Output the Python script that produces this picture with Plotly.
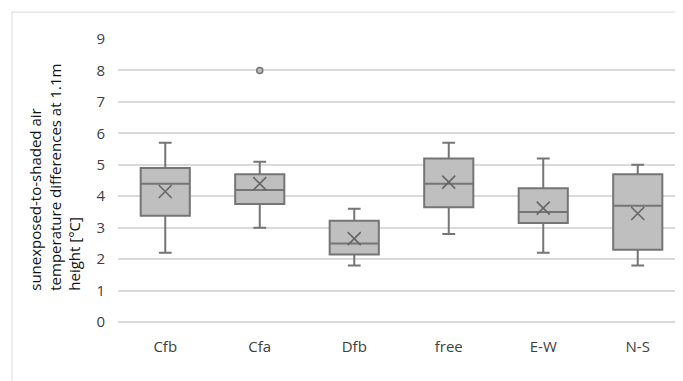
import plotly.graph_objects as go

categories = ["Cfb", "Cfa", "Dfb", "free", "E-W", "N-S"]
lower_whisker = [2.2, 3.0, 1.8, 2.8, 2.2, 1.8]
q1_vals = [3.38, 3.75, 2.15, 3.65, 3.15, 2.3]
median_vals = [4.4, 4.2, 2.5, 4.4, 3.5, 3.7]
q3_vals = [4.9, 4.7, 3.22, 5.2, 4.25, 4.7]
upper_whisker = [5.7, 5.1, 3.6, 5.7, 5.2, 5.0]
mean_vals = [4.15, 4.4, 2.65, 4.45, 3.62, 3.45]
outlier_cats = ["Cfa"]
outlier_vals = [8.0]
y_ticks = [0, 1, 2, 3, 4, 5, 6, 7, 8, 9]
y_title = "sunexposed-to-shaded air<br>temperature differences at 1.1m<br>height [°C]"

LINE = "#757575"
FILL = "#bfbfbf"
GRID = "#dadada"
FONT = "Open Sans, sans-serif"

fig = go.Figure()
fig.add_trace(go.Box(
    x=categories, q1=q1_vals, median=median_vals, q3=q3_vals,
    lowerfence=lower_whisker, upperfence=upper_whisker,
    fillcolor=FILL, line=dict(color=LINE, width=2), width=0.52,
    whiskerwidth=0.26, boxpoints=False, showlegend=False, hoverinfo="skip"))
fig.add_trace(go.Scatter(
    x=categories, y=mean_vals, mode="markers",
    marker=dict(symbol="x-thin", size=13, line=dict(color="#666666", width=1.6)),
    showlegend=False, hoverinfo="skip"))
fig.add_trace(go.Scatter(
    x=outlier_cats, y=outlier_vals, mode="markers",
    marker=dict(symbol="circle", size=6, color=FILL, line=dict(color=LINE, width=1.5)),
    showlegend=False, hoverinfo="skip"))

fig.add_shape(type="rect", xref="paper", yref="paper",
              x0=-0.187, x1=1.2, y0=-0.4, y1=1.095,
              line=dict(color="#d9d9d9", width=1))

fig.add_annotation(xref="paper", yref="paper", x=-0.111, y=0.51,
                   text=y_title, textangle=-90, align="left", showarrow=False,
                   xanchor="center", yanchor="middle",
                   font=dict(size=15, color="#111111", family=FONT))

fig.update_layout(
    width=683, height=381,
    margin=dict(l=110, r=6, t=31, b=67, autoexpand=False),
    paper_bgcolor="white", plot_bgcolor="white",
    font=dict(family=FONT, color="#404040", size=15),
    xaxis=dict(type="category", categoryorder="array", categoryarray=categories,
               showgrid=False, showline=False, zeroline=False, automargin=False,
               tickfont=dict(size=15, color="#404040"), range=[-0.5, 5.5],
               ticklabelstandoff=14),
    yaxis=dict(range=[0, 9], tickvals=y_ticks, showgrid=True, gridcolor=GRID,
               gridwidth=2, zeroline=True, zerolinecolor=GRID, zerolinewidth=2,
               showline=False, automargin=False,
               tickfont=dict(size=15, color="#404040"), ticklabelstandoff=12),
)
fig.write_html("out.html")
